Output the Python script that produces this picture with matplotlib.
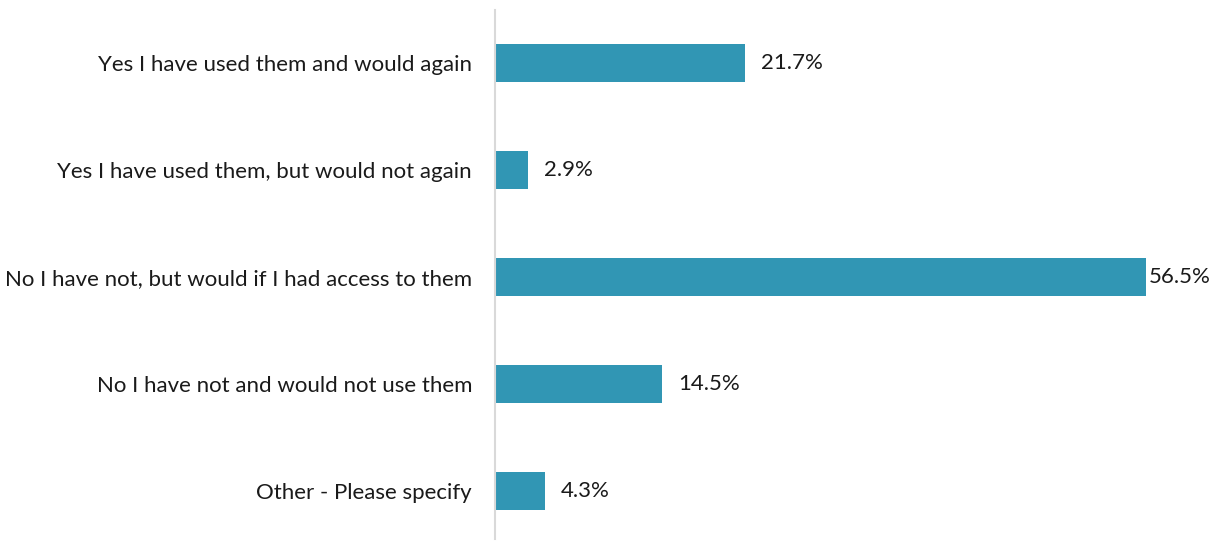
import matplotlib
matplotlib.use("Agg")
import matplotlib.pyplot as plt

# Survey answers and share of respondents (%)
categories = [
    "Yes I have used them and would again",
    "Yes I have used them, but would not again",
    "No I have not, but would if I had access to them",
    "No I have not and would not use them",
    "Other - Please specify",
]
values = [21.7, 2.9, 56.5, 14.5, 4.3]
value_labels = ["21.7%", "2.9%", "56.5%", "14.5%", "4.3%"]

BAR_COLOR = "#3196B4"
plt.rcParams["font.family"] = ["Lato", "DejaVu Sans"]

fig = plt.figure(figsize=(12.21, 5.42), dpi=100)
# axes spans from y=9.5px to y=539px (top-down)
ax = fig.add_axes([0.4054, 1 - 539.2 / 542, 0.5666, (539.2 - 9.5) / 542])

ypos = list(range(len(categories)))
ax.barh(ypos, values, height=0.36, color=BAR_COLOR)
ax.set_ylim(len(categories) - 0.55, -0.5)
ax.set_xlim(0, 60)

ax.set_yticks(ypos)
ax.set_yticklabels(categories, fontsize=16, color="#1a1a1a")
ax.tick_params(axis="y", length=0, pad=16.5)
ax.set_xticks([])

for y, v, lab in zip(ypos, values, value_labels):
    off = 2 if v == max(values) else 16
    ax.annotate(lab, (v, y), xytext=(off, 0), textcoords="offset pixels",
                va="center", ha="left", fontsize=16, color="#1a1a1a")

for s in ["top", "right", "bottom"]:
    ax.spines[s].set_visible(False)
ax.spines["left"].set_color("#D9D9D9")
ax.spines["left"].set_linewidth(1.5)

fig.savefig("out.png", dpi=100)
